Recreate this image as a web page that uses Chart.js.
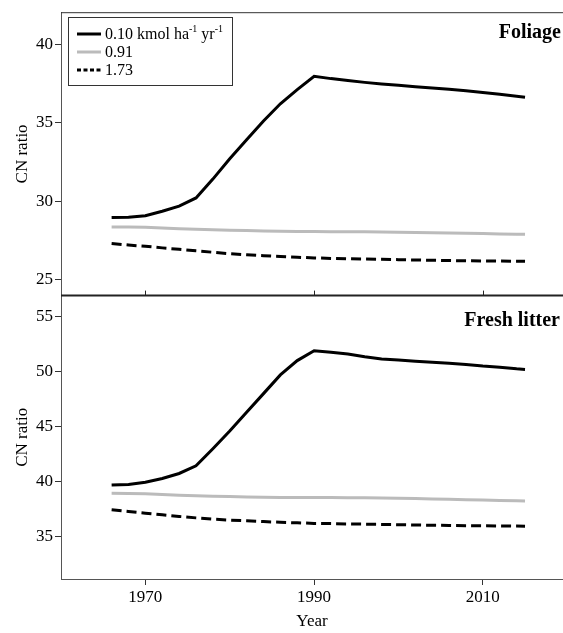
<!DOCTYPE html>
<html>
<head>
<meta charset="utf-8">
<script src="https://cdn.jsdelivr.net/npm/chart.js@4.4.0/dist/chart.umd.min.js"></script>
<style>
  html, body { margin: 0; padding: 0; background: #fff; }
</style>
</head>
<body>
<canvas id="cnChart" width="563" height="633"></canvas>
<script>
// years
const years = [1966, 1968, 1970, 1972, 1974, 1976, 1978, 1980, 1982, 1984, 1986, 1988, 1990,
  1992, 1994, 1996, 1998, 2000, 2002, 2004, 2006, 2008, 2010, 2012, 2014, 2015];

// foliage CN ratio
const foliageLow = [28.95, 28.97, 29.07, 29.35, 29.68, 30.2, 31.4, 32.7, 33.9, 35.1, 36.2, 37.1, 37.95,
  37.8, 37.68, 37.56, 37.46, 37.37, 37.28, 37.2, 37.12, 37.03, 36.92, 36.8, 36.68, 36.62];
const foliageMid = [28.35, 28.35, 28.33, 28.28, 28.24, 28.2, 28.17, 28.15, 28.12, 28.1, 28.08, 28.07, 28.06,
  28.05, 28.05, 28.04, 28.03, 28.02, 28.0, 27.99, 27.97, 27.95, 27.93, 27.91, 27.89, 27.88];
const foliageHigh = [27.3, 27.2, 27.12, 27.02, 26.93, 26.83, 26.74, 26.65, 26.58, 26.52, 26.47, 26.42, 26.38,
  26.35, 26.33, 26.31, 26.29, 26.27, 26.25, 26.23, 26.21, 26.2, 26.19, 26.18, 26.17, 26.16];

// fresh litter CN ratio
const litterLow = [39.7, 39.75, 39.95, 40.3, 40.75, 41.45, 43.0, 44.6, 46.3, 48.0, 49.7, 51.0, 51.9,
  51.75, 51.6, 51.35, 51.15, 51.05, 50.95, 50.85, 50.75, 50.65, 50.5, 50.4, 50.25, 50.2];
const litterMid = [38.95, 38.93, 38.9, 38.84, 38.78, 38.72, 38.68, 38.65, 38.62, 38.6, 38.58, 38.58, 38.57,
  38.56, 38.55, 38.54, 38.52, 38.5, 38.47, 38.44, 38.4, 38.37, 38.34, 38.3, 38.27, 38.25];
const litterHigh = [37.45, 37.3, 37.15, 37.0, 36.85, 36.72, 36.6, 36.52, 36.45, 36.38, 36.32, 36.27, 36.22,
  36.2, 36.17, 36.15, 36.12, 36.1, 36.07, 36.05, 36.03, 36.01, 36.0, 35.99, 35.98, 35.97];

const xTicks = [1970, 1990, 2010];
const foliageTicks = [25, 30, 35, 40];
const litterTicks = [35, 40, 45, 50, 55];
const depositions = ['0.10', '0.91', '1.73'];
const panelNames = ['Foliage', 'Fresh litter'];

const serif = '"Liberation Serif", "Times New Roman", serif';
const styles = [
  { color: '#000000', dash: [], legendDash: [] },
  { color: '#bbbbbb', dash: [], legendDash: [] },
  { color: '#000000', dash: [10, 5], legendDash: [4, 2.5] }
];

function pts(arr) {
  return years.map((y, i) => ({ x: y, y: arr[i] }));
}

function makeSet(arr, k, axis) {
  return {
    data: pts(arr),
    yAxisID: axis,
    borderColor: styles[k].color,
    borderDash: styles[k].dash,
    borderWidth: 3,
    pointRadius: 0,
    tension: 0,
    fill: false
  };
}

// frame lines, legend box, panel labels
const extras = {
  id: 'extras',
  afterDraw(chart) {
    const ctx = chart.ctx;
    const a = chart.chartArea;
    const yF = chart.scales.yF, yL = chart.scales.yL, x = chart.scales.x;
    ctx.save();
    ctx.strokeStyle = '#333';
    ctx.lineWidth = 1;
    ctx.beginPath();
    ctx.moveTo(a.left, yF.top + 0.5);
    ctx.lineTo(a.right, yF.top + 0.5);
    ctx.stroke();
    ctx.strokeStyle = '#222';
    ctx.lineWidth = 2;
    ctx.beginPath();
    ctx.moveTo(a.left, yL.top);
    ctx.lineTo(a.right, yL.top);
    ctx.stroke();
    // small ticks of the upper panel
    ctx.lineWidth = 1;
    xTicks.forEach(v => {
      const px = Math.round(x.getPixelForValue(v)) + 0.5;
      ctx.beginPath();
      ctx.moveTo(px, yL.top);
      ctx.lineTo(px, yL.top - 5);
      ctx.stroke();
    });

    // panel names
    ctx.fillStyle = '#000';
    ctx.font = 'bold 20px ' + serif;
    ctx.textAlign = 'right';
    ctx.textBaseline = 'alphabetic';
    ctx.fillText(panelNames[0], 561, 38);
    ctx.fillText(panelNames[1], 560, 326);

    // legend
    ctx.strokeStyle = '#333';
    ctx.lineWidth = 1;
    ctx.strokeRect(68.5, 17.5, 164, 68);
    const rows = [34, 52, 70];
    styles.forEach((s, k) => {
      ctx.strokeStyle = s.color;
      ctx.lineWidth = 3;
      ctx.setLineDash(s.legendDash);
      ctx.beginPath();
      ctx.moveTo(77, rows[k]);
      ctx.lineTo(101, rows[k]);
      ctx.stroke();
    });
    ctx.setLineDash([]);
    ctx.textAlign = 'left';
    ctx.textBaseline = 'middle';
    ctx.fillStyle = '#000';
    let tx = 105;
    const parts = [
      [depositions[0] + ' kmol ha', false], ['-1', true], [' yr', false], ['-1', true]
    ];
    parts.forEach(([t, sup]) => {
      ctx.font = (sup ? '10px ' : '16px ') + serif;
      ctx.fillText(t, tx, rows[0] + (sup ? -5 : 1));
      tx += ctx.measureText(t).width;
    });
    ctx.font = '16px ' + serif;
    ctx.fillText(depositions[1], 105, rows[1] + 1);
    ctx.fillText(depositions[2], 105, rows[2] + 1);
    ctx.restore();
  }
};

function yAxis(min, max, tickList) {
  return {
    type: 'linear',
    position: 'left',
    stack: 'panels',
    stackWeight: 1,
    min: min,
    max: max,
    afterBuildTicks: s => { s.ticks = tickList.map(v => ({ value: v })); },
    afterFit: s => { s.width = 61; },
    grid: { drawOnChartArea: false, drawTicks: true, tickLength: 6, tickColor: '#333' },
    border: { display: true, color: '#555', width: 1 },
    ticks: { color: '#000', font: { family: serif, size: 17 }, padding: 2 },
    title: { display: true, text: 'CN ratio', color: '#000', font: { family: serif, size: 17 }, padding: { top: 12 } }
  };
}

new Chart(document.getElementById('cnChart'), {
  type: 'line',
  data: {
    datasets: [
      makeSet(foliageLow, 0, 'yF'), makeSet(foliageMid, 1, 'yF'), makeSet(foliageHigh, 2, 'yF'),
      makeSet(litterLow, 0, 'yL'), makeSet(litterMid, 1, 'yL'), makeSet(litterHigh, 2, 'yL')
    ]
  },
  options: {
    responsive: false,
    animation: false,
    devicePixelRatio: 1,
    layout: { padding: { top: 11, left: 0, right: 0, bottom: 0 } },
    plugins: { legend: { display: false }, tooltip: { enabled: false } },
    scales: {
      // in a stack the last scale listed ends up on top
      yL: yAxis(31.17, 56.9, litterTicks),
      yF: yAxis(23.98, 42.03, foliageTicks),
      x: {
        type: 'linear',
        position: 'bottom',
        min: 1960,
        max: 2019.5,
        afterBuildTicks: s => { s.ticks = xTicks.map(v => ({ value: v })); },
        afterFit: s => { s.height = 54; },
        grid: { drawOnChartArea: false, drawTicks: true, tickLength: 6, tickColor: '#333' },
        border: { display: true, color: '#555', width: 1 },
        ticks: { color: '#000', font: { family: serif, size: 17 }, padding: 2, maxRotation: 0, callback: v => String(v) },
        title: { display: true, text: 'Year', color: '#000', font: { family: serif, size: 17 }, padding: { top: 0, bottom: 1 } }
      }
    }
  },
  plugins: [extras]
});
</script>
</body>
</html>
